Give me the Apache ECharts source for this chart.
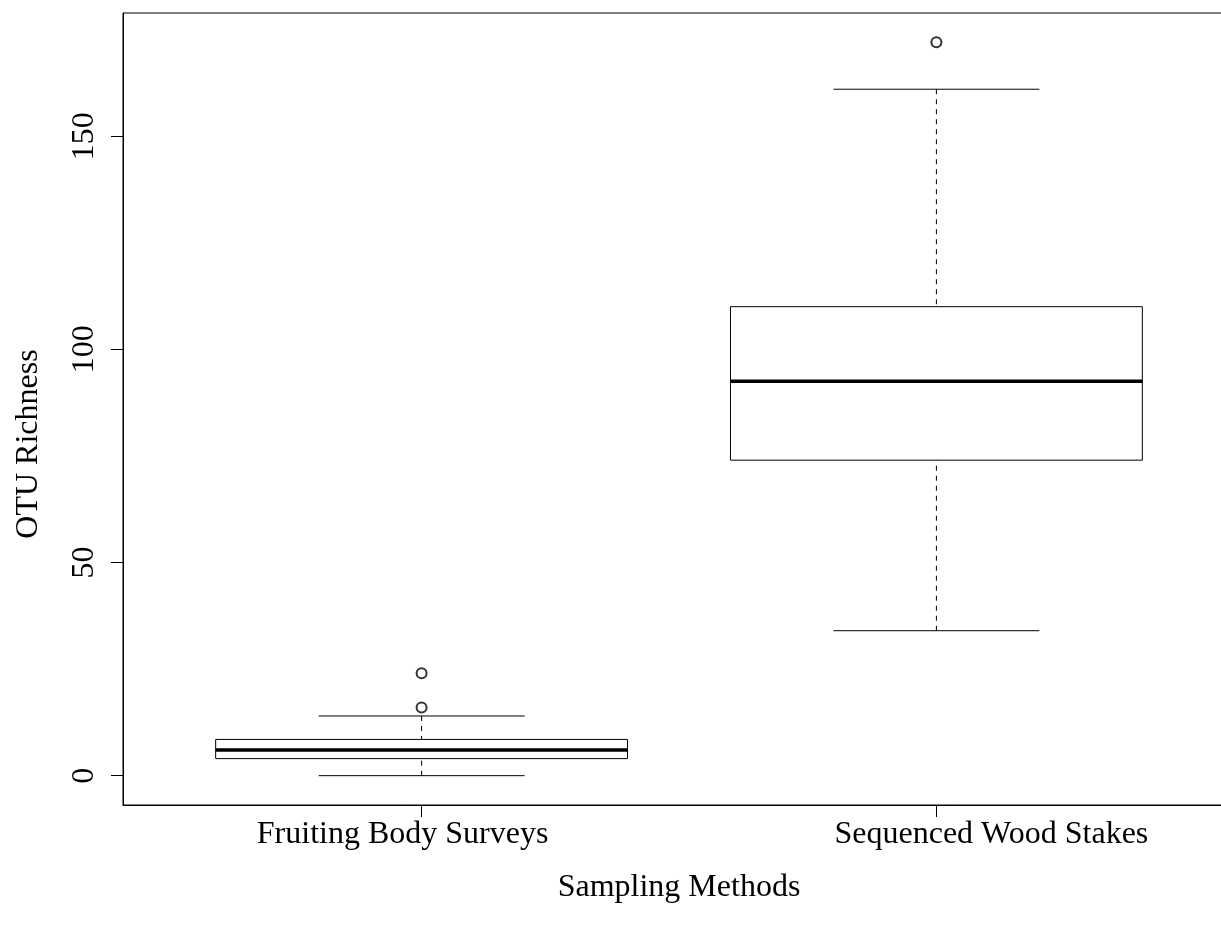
<!DOCTYPE html>
<html><head><meta charset="utf-8">
<script src="https://cdn.jsdelivr.net/npm/echarts@6/dist/echarts.min.js"></script>
<style>html,body{margin:0;padding:0;background:#fff;overflow:hidden;width:1221px;height:935px}#c{width:1235px;height:935px}</style>
</head><body><div id="c"></div>
<script>
const categories = ['Fruiting Body Surveys', 'Sequenced Wood Stakes'];
const positions = [1, 2];
const whiskerLow = [0, 34];
const q1 = [4, 74];
const median = [6, 92.5];
const q3 = [8.5, 110];
const whiskerHigh = [14, 161];
const outliersFruiting = [16, 24];
const outliersWood = [172];
const yTicks = [0, 50, 100, 150];
const yMin = -6.88, yMax = 178.88;
const xMin = 0.42, xMax = 2.58;

const FONT = 'Liberation Serif';
const boxData = positions.map((p, i) => [p, whiskerLow[i], q1[i], median[i], q3[i], whiskerHigh[i]]);
const outlierData = outliersFruiting.map(v => [positions[0], v]).concat(outliersWood.map(v => [positions[1], v]));

function renderBox(params, api) {
  const x = api.value(0);
  const lo = api.coord([x, api.value(1)]);
  const a = api.coord([x, api.value(2)]);
  const m = api.coord([x, api.value(3)]);
  const b = api.coord([x, api.value(4)]);
  const hi = api.coord([x, api.value(5)]);
  const boxW = api.size([0.8, 0])[0];
  const capW = api.size([0.4, 0])[0];
  const cx = lo[0];
  const dashed = {stroke: '#000', lineWidth: 1, lineDash: [5, 5]};
  const solid = {stroke: '#000', lineWidth: 1};
  return {type: 'group', children: [
    {type: 'line', shape: {x1: cx, y1: hi[1], x2: cx, y2: b[1]}, style: dashed},
    {type: 'line', shape: {x1: cx, y1: lo[1], x2: cx, y2: a[1]}, style: dashed},
    {type: 'line', shape: {x1: cx - capW / 2, y1: hi[1], x2: cx + capW / 2, y2: hi[1]}, style: solid},
    {type: 'line', shape: {x1: cx - capW / 2, y1: lo[1], x2: cx + capW / 2, y2: lo[1]}, style: solid},
    {type: 'rect', shape: {x: cx - boxW / 2, y: b[1], width: boxW, height: a[1] - b[1]}, style: {fill: '#fff', stroke: '#000', lineWidth: 1}},
    {type: 'line', shape: {x1: cx - boxW / 2, y1: m[1], x2: cx + boxW / 2, y2: m[1]}, style: {stroke: '#000', lineWidth: 3.5}}
  ]};
}

const chart = echarts.init(document.getElementById('c'), null, {renderer: 'canvas'});
chart.setOption({
  animation: false,
  backgroundColor: '#fff',
  grid: {left: 123, right: 0, top: 13, bottom: 130, show: true, borderColor: '#000', borderWidth: 1, backgroundColor: 'transparent'},
  xAxis: {
    type: 'value', min: xMin, max: xMax,
    name: 'Sampling Methods', nameLocation: 'middle', nameGap: 67,
    nameTextStyle: {fontFamily: FONT, fontSize: 32, color: '#000'},
    axisLine: {show: true, onZero: false, lineStyle: {color: '#000', width: 1}},
    axisTick: {show: true, inside: false, length: 12, customValues: positions, lineStyle: {color: '#000', width: 1}},
    axisLabel: {show: true, customValues: positions, margin: 14, fontFamily: FONT, fontSize: 32, color: '#000',
      formatter: v => {
        const i = positions.indexOf(Math.round(v));
        return i < 0 ? '' : '{l' + i + '|' + categories[i] + '}';
      },
      rich: {
        l0: {fontFamily: FONT, fontSize: 32, color: '#000', padding: [0, 38, 0, 0]},
        l1: {fontFamily: FONT, fontSize: 32, color: '#000', padding: [0, 0, 0, 110]}
      }},
    splitLine: {show: false}
  },
  yAxis: {
    type: 'value', min: yMin, max: yMax,
    name: 'OTU Richness', nameLocation: 'middle', nameGap: 78,
    nameTextStyle: {fontFamily: FONT, fontSize: 32, color: '#000', padding: [0, 70, 0, 0]},
    axisLine: {show: true, onZero: false, lineStyle: {color: '#000', width: 1}},
    axisTick: {show: true, inside: false, length: 12, customValues: yTicks, lineStyle: {color: '#000', width: 1}},
    axisLabel: {show: true, customValues: yTicks, rotate: 90, margin: 22, fontFamily: FONT, fontSize: 32, color: '#000'},
    splitLine: {show: false}
  },
  series: [
    {type: 'custom', renderItem: renderBox, data: boxData, encode: {x: 0, y: [1, 2, 3, 4, 5]}, clip: false},
    {type: 'scatter', data: outlierData, symbol: 'emptyCircle', symbolSize: 10,
      itemStyle: {color: '#000', borderColor: '#000', borderWidth: 1}, z: 5}
  ]
});
</script>
</body></html>
